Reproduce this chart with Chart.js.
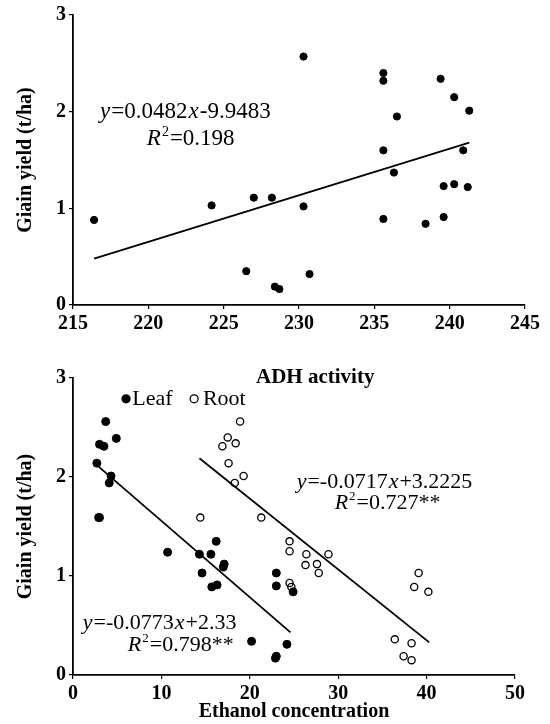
<!DOCTYPE html>
<html>
<head>
<meta charset="utf-8">
<script src="https://cdn.jsdelivr.net/npm/chart.js@4/dist/chart.umd.min.js"></script>
<style>
  body { margin: 0; background: #fff; }
  #wrap { position: relative; width: 550px; height: 724px; }
  #top { position: absolute; left: 0; top: 0; }
  #bottom { position: absolute; left: 0; top: 360px; }
</style>
</head>
<body>
<div id="wrap">
  <canvas id="top" width="550" height="345"></canvas>
  <canvas id="bottom" width="550" height="364"></canvas>
</div>
<script>
// upper panel: grain yield vs x (215..245)
const topX = [216.4, 224.2, 227.0, 228.2, 230.3, 230.3, 226.5, 228.4, 228.7, 230.7, 235.6, 235.6, 239.4, 240.3, 241.3, 236.5, 235.6, 240.9, 236.3, 239.6, 240.3, 241.2, 235.6, 238.4, 239.6]
const topY = [0.88, 1.03, 1.11, 1.11, 2.57, 1.02, 0.35, 0.19, 0.165, 0.32, 2.40, 2.32, 2.34, 2.15, 2.01, 1.95, 1.60, 1.60, 1.37, 1.23, 1.25, 1.22, 0.89, 0.84, 0.91]
const topFitX = [216.4, 241.3]
const topFitY = [0.48, 1.68]

// lower panel: grain yield vs ethanol concentration
const leafX = [3.7, 3.0, 3.5, 4.9, 2.7, 4.3, 4.1, 2.9, 3.0, 10.7, 14.3, 15.6, 16.2, 17.1, 17.0, 14.6, 15.7, 16.3, 23.0, 23.0, 24.9, 20.2, 24.2, 22.9, 23.0]
const leafY = [2.56, 2.33, 2.31, 2.39, 2.14, 2.01, 1.94, 1.59, 1.59, 1.24, 1.22, 1.22, 1.35, 1.12, 1.09, 1.03, 0.89, 0.91, 1.03, 0.90, 0.84, 0.34, 0.31, 0.17, 0.19]
const rootX = [18.9, 17.5, 16.9, 18.4, 17.6, 18.3, 19.3, 14.4, 21.3, 24.5, 24.5, 24.5, 24.7, 26.4, 26.3, 27.6, 27.8, 28.9, 39.1, 38.6, 40.2, 36.4, 38.3, 37.4, 38.3]
const rootY = [2.56, 2.40, 2.31, 2.34, 2.14, 1.94, 2.01, 1.59, 1.59, 1.35, 1.25, 0.93, 0.89, 1.22, 1.11, 1.12, 1.03, 1.22, 1.03, 0.89, 0.84, 0.36, 0.32, 0.19, 0.15]
const leafFitX = [2.7, 24.6]
const leafFitY = [2.12, 0.43]
const rootFitX = [14.3, 40.3]
const rootFitY = [2.19, 0.33]

const yTicks = [0, 1, 2, 3]
const topXTicks = [215, 220, 225, 230, 235, 240, 245]
const bottomXTicks = [0, 10, 20, 30, 40, 50]

const SERIF = '"Liberation Serif", "Times New Roman", serif'

const pts = (xs, ys) => xs.map((x, i) => ({ x: x, y: ys[i] }))

// draws a run of text pieces: [text, italic, superscript]
function rich(ctx, x, y, parts, size) {
    ctx.save()
    ctx.textBaseline = 'middle'
    ctx.textAlign = 'left'
    ctx.fillStyle = '#000'
    let cx = x
    for (const [t, it, sup] of parts) {
        const s = sup ? Math.round(size * 0.6) : size
        ctx.font = (it ? 'italic ' : '') + s + 'px ' + SERIF
        ctx.fillText(t, cx, sup ? y - size * 0.3 : y)
        cx += ctx.measureText(t).width + 1
    }
    ctx.restore()
}

function dot(ctx, x, y, filled) {
    ctx.save()
    ctx.beginPath()
    ctx.arc(x, y, 4, 0, Math.PI * 2)
    ctx.lineWidth = 1.3
    ctx.strokeStyle = '#000'
    ctx.fillStyle = filled ? '#000' : '#fff'
    ctx.fill()
    ctx.stroke()
    ctx.restore()
}

function axes(xMin, xMax, xTicks, yWidth, xHeight, xTitle) {
    const tickFont = { family: SERIF, size: 20, weight: 'bold' }
    return {
        x: {
            type: 'linear', min: xMin, max: xMax,
            afterBuildTicks: s => { s.ticks = xTicks.map(v => ({ value: v })) },
            grid: { drawOnChartArea: false, drawTicks: true, tickLength: 4, color: '#000', lineWidth: 1.2 },
            border: { color: '#000', width: 1.8 },
            ticks: { color: '#000', font: tickFont, padding: 3, maxRotation: 0 },
            title: xTitle ? { display: true, text: xTitle, color: '#000', font: { family: SERIF, size: 20, weight: 'bold' }, padding: { top: 0, bottom: 0 } } : { display: false },
            afterFit: s => { s.height = xHeight }
        },
        y: {
            type: 'linear', min: 0, max: 3,
            afterBuildTicks: s => { s.ticks = yTicks.map(v => ({ value: v })) },
            grid: { drawOnChartArea: false, drawTicks: true, tickLength: 4, color: '#000', lineWidth: 1.2 },
            border: { color: '#000', width: 1.8 },
            ticks: { color: '#000', font: tickFont, padding: 3 },
            title: { display: true, text: 'Giain yield (t/ha)', color: '#000', font: { family: SERIF, size: 20, weight: 'bold' }, padding: { top: 14, bottom: 0 } },
            afterFit: s => { s.width = yWidth }
        }
    }
}

const common = {
    responsive: false,
    animation: false,
    plugins: { legend: { display: false }, tooltip: { enabled: false } }
}

// upper chart
new Chart(document.getElementById('top'), {
    type: 'scatter',
    data: {
        datasets: [
            { data: pts(topX, topY), backgroundColor: '#000', borderColor: '#000', pointRadius: 3.6 },
            { type: 'line', data: pts(topFitX, topFitY), borderColor: '#000', borderWidth: 1.8, pointRadius: 0, fill: false }
        ]
    },
    options: {
        ...common,
        layout: { padding: { top: 15, right: 25, left: 0, bottom: 0 } },
        scales: axes(215, 245, topXTicks, 73, 40, null)
    },
    plugins: [{
        id: 'notesTop',
        afterDraw(chart) {
            const { ctx } = chart
            const x = chart.scales.x, y = chart.scales.y
            rich(ctx, x.getPixelForValue(216.8), y.getPixelForValue(2.0),
                [['y', true], ['=0.0482', false], ['x', true], ['-9.9483', false]], 23)
            rich(ctx, x.getPixelForValue(219.9), y.getPixelForValue(1.72),
                [['R', true], ['2', false, true], ['=0.198', false]], 23)
        }
    }]
})

// lower chart
new Chart(document.getElementById('bottom'), {
    type: 'scatter',
    data: {
        datasets: [
            { data: pts(leafX, leafY), backgroundColor: '#000', borderColor: '#000', pointRadius: 4 },
            { data: pts(rootX, rootY), backgroundColor: 'rgba(255,255,255,0)', borderColor: '#000', borderWidth: 1.3, pointRadius: 3.6 },
            { type: 'line', data: pts(leafFitX, leafFitY), borderColor: '#000', borderWidth: 1.8, pointRadius: 0, fill: false },
            { type: 'line', data: pts(rootFitX, rootFitY), borderColor: '#000', borderWidth: 1.8, pointRadius: 0, fill: false }
        ]
    },
    options: {
        ...common,
        layout: { padding: { top: 18, right: 35, left: 0, bottom: 0 } },
        scales: axes(0, 50, bottomXTicks, 73, 49, 'Ethanol concentration')
    },
    plugins: [{
        id: 'notesBottom',
        afterDraw(chart) {
            const { ctx } = chart
            const x = chart.scales.x, y = chart.scales.y
            ctx.save()
            ctx.font = 'bold 21px ' + SERIF
            ctx.textAlign = 'center'
            ctx.textBaseline = 'middle'
            ctx.fillStyle = '#000'
            ctx.fillText('ADH activity', x.getPixelForValue(27.4), y.getPixelForValue(3.0))
            ctx.restore()

            // legend
            dot(ctx, x.getPixelForValue(6.0), y.getPixelForValue(2.79), true)
            rich(ctx, x.getPixelForValue(6.7), y.getPixelForValue(2.79), [['Leaf', false]], 22)
            dot(ctx, x.getPixelForValue(13.7), y.getPixelForValue(2.79), false)
            rich(ctx, x.getPixelForValue(14.7), y.getPixelForValue(2.79), [['Root', false]], 22)

            rich(ctx, x.getPixelForValue(1.1), y.getPixelForValue(0.525),
                [['y', true], ['=-0.0773', false], ['x', true], ['+2.33', false]], 22)
            rich(ctx, x.getPixelForValue(6.2), y.getPixelForValue(0.30),
                [['R', true], ['2', false, true], ['=0.798**', false]], 22)
            rich(ctx, x.getPixelForValue(25.3), y.getPixelForValue(1.95),
                [['y', true], ['=-0.0717', false], ['x', true], ['+3.2225', false]], 22)
            rich(ctx, x.getPixelForValue(29.6), y.getPixelForValue(1.74),
                [['R', true], ['2', false, true], ['=0.727**', false]], 22)
        }
    }]
})
</script>
</body>
</html>
